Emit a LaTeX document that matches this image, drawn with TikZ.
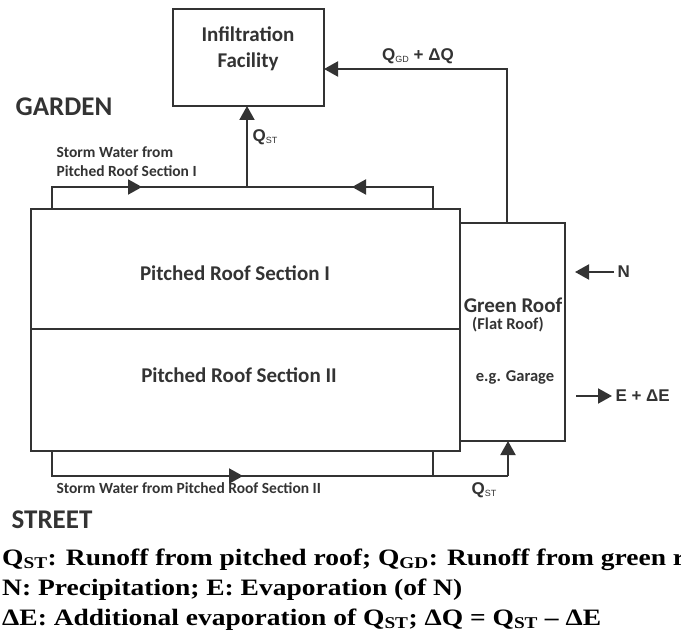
\documentclass[tikz,border=0pt]{standalone}
\usepackage{fontspec}
\setmainfont{Carlito}
\newfontfamily\legendfont[FakeStretch=1.17]{Liberation Serif}
\newfontfamily\qfont{Liberation Sans}
\usepackage{xcolor}
\usetikzlibrary{arrows.meta,positioning,decorations.markings}

\definecolor{ink}{HTML}{333333}
\newcommand{\lowidx}[1]{\raisebox{-0.3ex}{\fontsize{9}{9}\selectfont\mdseries #1}}

\tikzset{
  box/.style={draw=ink, line width=2.8pt, inner sep=0pt, outer sep=0pt},
  flow/.style={draw=ink, line width=2pt},
  tip/.style={-{Triangle[length=14pt,width=15pt]}},
  midarrow/.style={postaction={decorate},
    decoration={markings, mark=at position #1 with {\arrow{Triangle[length=14pt,width=15pt]}}}},
  big/.style={text=ink, font=\bfseries\fontsize{21}{26}\selectfont, align=center},
  mid/.style={text=ink, font=\bfseries\fontsize{16.5}{19}\selectfont, inner sep=1pt},
  small/.style={text=ink, font=\bfseries\fontsize{15.5}{19}\selectfont, align=left},
  place/.style={text=ink, font=\bfseries\fontsize{27}{30}\selectfont},
  qlbl/.style={text=ink, font=\qfont\bfseries\fontsize{17}{19}\selectfont},
  legend/.style={text=black, font=\legendfont\bfseries\fontsize{23.5}{28}\selectfont, inner sep=0pt},
}

\begin{document}
\begin{tikzpicture}[x=1pt, y=-1pt]
  \useasboundingbox (0,0) rectangle (681,639);
  \clip (0,0) rectangle (681,639);

  % --- Boxes ---
  \node[box, minimum width=151pt, minimum height=97pt] (infil) at (248.5,57.5) {};
  \node[big] (infiltxt) at (248,49) {Infiltration\\Facility};

  \node[box, minimum width=429pt, minimum height=120pt] (roofI) at (245.5,269) {};
  \node[box, minimum width=429pt, minimum height=122pt] (roofII) at (245.5,390) {};
  \node[box, minimum width=105pt, minimum height=218pt] (green) at (512.5,332) {};

  \node[big] (roofItxt) at (235,273) {Pitched Roof Section I};
  \node[big] (roofIItxt) at (239,375) {Pitched Roof Section II};
  \node[big, inner sep=0.5pt] (greentxt) at (513,305) {Green Roof};
  \node[mid] (flattxt) at (508,325) {(Flat Roof)};
  \node[mid] (garagetxt) at (515,377) {e.g. Garage};

  % --- Places ---
  \node[place] (garden) at (64,107) {GARDEN};
  \node[place] (street) at (52,520) {STREET};

  % --- Storm water from section I ---
  \coordinate (tl) at (52,187);
  \coordinate (tr) at (433,187);
  \coordinate (jt) at (247,187);
  \draw[flow, midarrow=112pt] (roofI.north -| tl) -- (tl) -- (jt);
  \draw[flow, midarrow=103pt] (roofI.north -| tr) -- (tr) -- (jt);
  \draw[flow, tip] (jt) -- (infil.south -| jt);
  \node[small, anchor=west] (storm1) at (53,162) {Storm Water from\\Pitched Roof Section I};
  \node[qlbl, anchor=west] (qst1) at (249,137) {Q\lowidx{ST}};

  % --- Storm water from section II ---
  \coordinate (bl) at (52,476);
  \coordinate (bm) at (433,476);
  \coordinate (br) at (508,476);
  \draw[flow, midarrow=216pt] (roofII.south -| bl) -- (bl) -- (br);
  \draw[flow] (roofII.south -| bm) -- (bm);
  \draw[flow, tip] (br) -- (green.south -| br);
  \node[small, anchor=west] (storm2) at (53,488) {Storm Water from Pitched Roof Section II};
  \node[qlbl] (qst2) at (484,490) {Q\lowidx{ST}};

  % --- Green roof runoff ---
  \coordinate (gt) at (507,69);
  \draw[flow, tip] (green.north -| gt) -- (gt) -- (infil.east |- gt);
  \node[qlbl] (qgd) at (418,56) {Q\lowidx{GD} + ΔQ};

  % --- Precipitation / evaporation ---
  \node[qlbl, anchor=west] (ntxt) at (614,272) {N};
  \coordinate (nend) at (575,272);
  \draw[flow, tip] (ntxt.west) -- (nend);
  \coordinate (estart) at (576,396);
  \node[qlbl, anchor=west] (etxt) at (612,396) {E + ΔE};
  \draw[flow, tip] (estart) -- (etxt.west);

  % --- Legend ---
  \node[legend, anchor=base west] (leg1) at (2,565)
    {Q\textsubscript{ST}: Runoff from pitched roof; Q\textsubscript{GD}: Runoff from green roof};
  \node[legend, anchor=base west] (leg2) at (2,595)
    {N: Precipitation; E: Evaporation (of N)};
  \node[legend, anchor=base west] (leg3) at (2,625)
    {ΔE: Additional evaporation of Q\textsubscript{ST}; ΔQ = Q\textsubscript{ST} – ΔE};
\end{tikzpicture}
\end{document}
